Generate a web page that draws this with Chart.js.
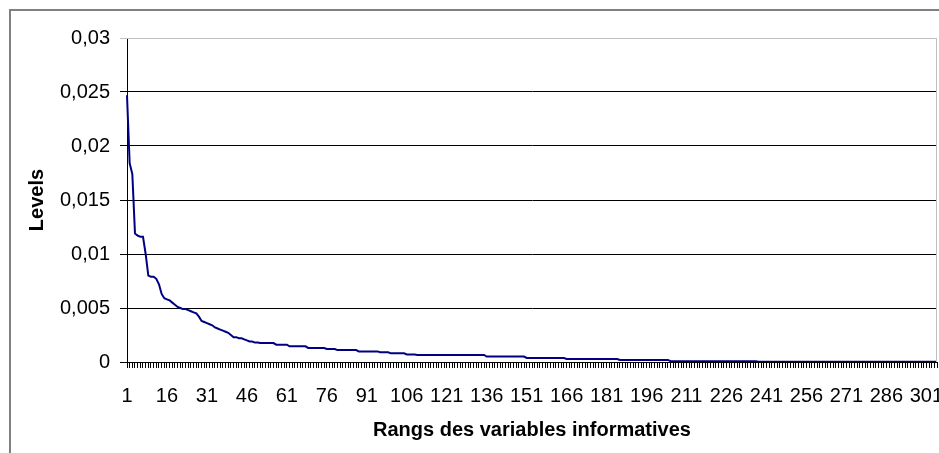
<!DOCTYPE html>
<html>
<head>
<meta charset="utf-8">
<script src="https://cdn.jsdelivr.net/npm/chart.js@4/dist/chart.umd.min.js"></script>
<style>
  html, body { margin: 0; padding: 0; background: #fff; }
  .chart { width: 939px; height: 453px; position: relative; }
</style>
</head>
<body>
<div class="chart">
  <canvas id="myChart"></canvas>
</div>
<script>
// levels by rank (1..305)
const levels = [
  0.0247, 0.0184, 0.0174, 0.0119, 0.0117, 0.0116, 0.0116, 0.0100, 0.0080, 0.0079, 0.0079, 0.0077, 0.0072, 0.0063, 0.0059,
  0.0058, 0.0057, 0.0055, 0.0053, 0.0051, 0.0050, 0.0049, 0.0049, 0.0048, 0.0047, 0.0046, 0.0045, 0.0042, 0.0038, 0.0037,
  0.0036, 0.0035, 0.0034, 0.0032, 0.0031, 0.0030, 0.0029, 0.0028, 0.0027, 0.0025, 0.0023, 0.0023, 0.0022, 0.0022, 0.0021,
  0.0020, 0.0019, 0.0019, 0.0018, 0.0018, 0.00175, 0.00175, 0.00175, 0.00175, 0.00175, 0.00175, 0.0016, 0.0016, 0.0016, 0.0016,
  0.0016, 0.00145, 0.00145, 0.00145, 0.00145, 0.00145, 0.00145, 0.00145, 0.0013, 0.0013, 0.0013, 0.0013, 0.0013, 0.0013, 0.0013,
  0.0012, 0.0012, 0.0012, 0.0012, 0.0011, 0.0011, 0.0011, 0.0011, 0.0011, 0.0011, 0.0011, 0.0011, 0.00098, 0.00098, 0.00098,
  0.00098, 0.00098, 0.00098, 0.00098, 0.00098, 0.0009, 0.0009, 0.0009, 0.0009, 0.0008, 0.0008, 0.0008, 0.0008, 0.0008, 0.0008,
  0.0007, 0.0007, 0.0007, 0.0007, 0.00065, 0.00065, 0.00065, 0.00065, 0.00065, 0.00065, 0.00065, 0.00065, 0.00065, 0.00065, 0.00065,
  0.00065, 0.00065, 0.00065, 0.00065, 0.00065, 0.00065, 0.00065, 0.00065, 0.00065, 0.00065, 0.00065, 0.00065, 0.00065, 0.00065, 0.00065,
  0.0005, 0.0005, 0.0005, 0.0005, 0.0005, 0.0005, 0.0005, 0.0005, 0.0005, 0.0005, 0.0005, 0.0005, 0.0005, 0.0005, 0.0005,
  0.00037, 0.00037, 0.00037, 0.00037, 0.00037, 0.00037, 0.00037, 0.00037, 0.00037, 0.00037, 0.00037, 0.00037, 0.00037, 0.00037, 0.00037,
  0.00028, 0.00028, 0.00028, 0.00028, 0.00028, 0.00028, 0.00028, 0.00028, 0.00028, 0.00028, 0.00028, 0.00028, 0.00028, 0.00028, 0.00028,
  0.00028, 0.00028, 0.00028, 0.00028, 0.00028, 0.00019, 0.00019, 0.00019, 0.00019, 0.00019, 0.00019, 0.00019, 0.00019, 0.00019, 0.00019,
  0.00019, 0.00019, 0.00019, 0.00019, 0.00019, 0.00019, 0.00019, 0.00019, 0.00019, 0.00008, 0.00008, 0.00008, 0.00008, 0.00008, 0.00008,
  0.00008, 0.00008, 0.00008, 0.00008, 0.00008, 0.00008, 0.00008, 0.00008, 0.00008, 0.00008, 0.00008, 0.00008, 0.00008, 0.00008, 0.00008,
  0.00008, 0.00008, 0.00008, 0.00008, 0.00008, 0.00008, 0.00008, 0.00008, 0.00008, 0.00008, 0.00008, 0.00008, 0.00002, 0.00002, 0.00002,
  0.00002, 0.00002, 0.00002, 0.00002, 0.00002, 0.00002, 0.00002, 0.00002, 0.00002, 0.00002, 0.00002, 0.00002, 0.00002, 0.00002, 0.00002,
  0.00002, 0.00002, 0.00002, 0.00002, 0.00002, 0.00002, 0.00002, 0.00002, 0.00002, 0.00002, 0.00002, 0.00002, 0.00002, 0.00002, 0.00002,
  0.00002, 0.00002, 0.00002, 0.00002, 0.00002, 0.00002, 0.00002, 0.00002, 0.00002, 0.00002, 0.00002, 0.00002, 0.00002, 0.00002, 0.00002,
  0.00002, 0.00002, 0.00002, 0.00002, 0.00002, 0.00002, 0.00002, 0.00002, 0.00002, 0.00002, 0.00002, 0.00002, 0.00002, 0.00002, 0.00002,
  0.00002, 0.00002, 0.00002, 0.00002, 0.00002
];
const ranks = levels.map((_, i) => String(i + 1));
const xTickLabels = ["1", "16", "31", "46", "61", "76", "91", "106", "121", "136", "151", "166", "181", "196", "211", "226", "241", "256", "271", "286", "301"];
const yTickLabels = ["0", "0,005", "0,01", "0,015", "0,02", "0,025", "0,03"];

const FONT = "'Liberation Sans', Arial, sans-serif";

// frame around the chart + light border of the plot area
const framePlugin = {
  id: "frame",
  beforeDraw(chart) {
    const ctx = chart.ctx;
    ctx.save();
    ctx.fillStyle = "#fff";
    ctx.fillRect(0, 0, chart.width, chart.height);
    ctx.strokeStyle = "#808080";
    ctx.lineWidth = 2;
    ctx.strokeRect(10, 10, 1000, 1000);
    ctx.restore();
  },
  afterDraw(chart) {
    const { ctx, chartArea } = chart;
    ctx.save();
    ctx.strokeStyle = "#c0c0c0";
    ctx.lineWidth = 1;
    ctx.beginPath();
    ctx.moveTo(chartArea.left, chartArea.top + 0.5);
    ctx.lineTo(chartArea.right - 0.5, chartArea.top + 0.5);
    ctx.lineTo(chartArea.right - 0.5, chartArea.bottom);
    ctx.stroke();
    ctx.restore();
  }
};

new Chart(document.getElementById("myChart").getContext("2d"), {
  type: "line",
  data: {
    labels: ranks,
    datasets: [{
      data: levels,
      borderColor: "#000080",
      borderWidth: 2,
      pointRadius: 0,
      tension: 0,
      fill: false
    }]
  },
  options: {
    responsive: true,
    maintainAspectRatio: false,
    animation: false,
    layout: { padding: { top: 38, right: 2, left: 0, bottom: 0 } },
    plugins: { legend: { display: false }, tooltip: { enabled: false } },
    scales: {
      x: {
        type: "category",
        offset: false,
        afterFit: (scale) => {
          scale.height = 91;
          scale.paddingLeft = 0;
          scale.paddingRight = 0;
        },
        grid: { drawOnChartArea: false, drawTicks: true, tickLength: 6, color: "#000" },
        border: { display: true, color: "#000", width: 1 },
        ticks: {
          autoSkip: false,
          maxRotation: 0,
          minRotation: 0,
          padding: 16,
          color: "#000",
          font: { family: FONT, size: 20 },
          callback: (val, index) => xTickLabels.includes(ranks[index]) ? ranks[index] : ""
        },
        title: {
          display: true,
          text: "Rangs des variables informatives",
          color: "#000",
          font: { family: FONT, size: 20, weight: "bold" },
          padding: { top: 0, bottom: 11 }
        }
      },
      y: {
        min: 0,
        max: 0.03,
        afterFit: (scale) => { scale.width = 127; },
        grid: {
          drawTicks: true,
          tickLength: 7,
          color: (c) => (c.tick && c.index === yTickLabels.length - 1) ? "#c0c0c0" : "#000"
        },
        border: { display: true, color: "#000", width: 1 },
        ticks: {
          stepSize: 0.005,
          padding: 10,
          color: "#000",
          font: { family: FONT, size: 20 },
          callback: (val, index) => yTickLabels[index]
        },
        title: {
          display: true,
          text: "Levels",
          color: "#000",
          font: { family: FONT, size: 20, weight: "bold" },
          padding: { top: 25, bottom: 0 }
        }
      }
    }
  },
  plugins: [framePlugin]
});
</script>
</body>
</html>
